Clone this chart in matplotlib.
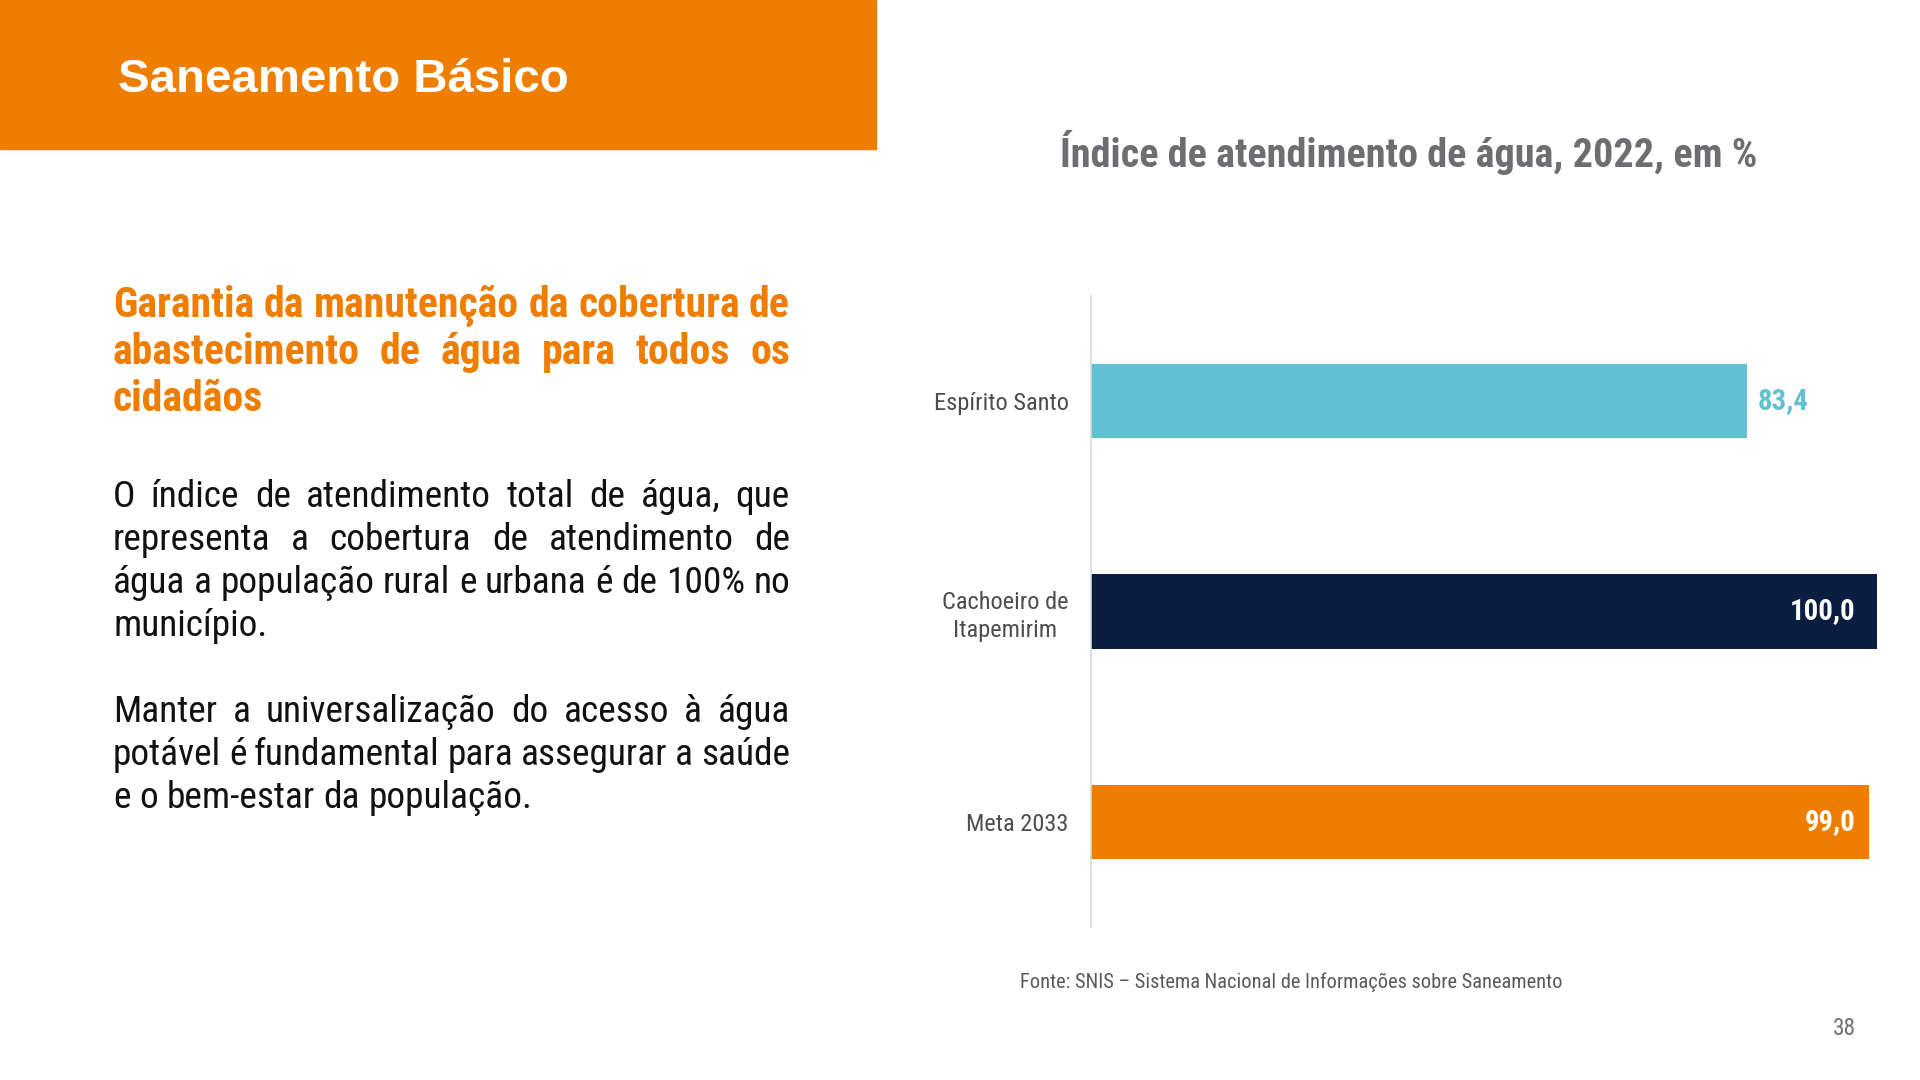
import matplotlib
matplotlib.use("Agg")
import matplotlib.pyplot as plt
from matplotlib import font_manager
from matplotlib.patches import Rectangle

# --- data ---
categories = ["Espírito Santo", "Cachoeiro de\nItapemirim", "Meta 2033"]
values = [83.4, 100.0, 99.0]
bar_colors = ["#62C1D0", "#0A1E42", "#EE7D00"]

header = "Saneamento Básico"
chart_title = "Índice de atendimento de água, 2022, em %"
source = "Fonte: SNIS – Sistema Nacional de Informações sobre Saneamento"
page = "38"
heading_lines = ["Garantia da manutenção da cobertura de",
                 "abastecimento de água para todos os",
                 "cidadãos"]
para1 = ["O índice de atendimento total de água, que",
         "representa a cobertura de atendimento de",
         "água a população rural e urbana é de 100% no",
         "município."]
para2 = ["Manter a universalização do acesso à água",
         "potável é fundamental para assegurar a saúde",
         "e o bem-estar da população."]

ORANGE = "#EE7D00"
W, H = 1920, 1080

names = {f.name for f in font_manager.fontManager.ttflist}


def pick(cands):
    for c in cands:
        if c in names:
            return c
    return "DejaVu Sans"


COND = pick(["Liberation Sans Narrow", "Roboto Condensed", "Open Sans Condensed", "DejaVu Sans"])
STRETCH = "condensed" if COND == "DejaVu Sans" else "normal"
SANS = pick(["Liberation Sans", "Arial", "DejaVu Sans"])

fig = plt.figure(figsize=(19.2, 10.8), dpi=100)
fig.patch.set_facecolor("white")
r = fig.canvas.get_renderer()


def fx(x):
    return x / W


def fy(y):
    return 1 - y / H


def width_of(s, **kw):
    t = fig.text(0, 0, s, **kw)
    w = t.get_window_extent(r).width
    t.remove()
    return w


def fit_size(s, target, **kw):
    w = width_of(s, fontsize=20, **kw)
    return 20 * target / w


def justified(lines, x0, x1, baselines, **kw):
    for i, (line, yb) in enumerate(zip(lines, baselines)):
        words = line.split()
        widths = [width_of(w, **kw) for w in words]
        last = i == len(lines) - 1
        if len(words) > 1 and not last:
            gap = (x1 - x0 - sum(widths)) / (len(words) - 1)
        elif len(words) > 1:
            gap = (width_of(line, **kw) - sum(widths)) / (len(words) - 1)
        else:
            gap = 0
        x = x0
        for w, wd in zip(words, widths):
            fig.text(fx(x), fy(yb), w, ha="left", va="baseline", **kw)
            x += wd + gap


# header band
fig.patches.append(Rectangle((0, fy(149)), fx(876), 149 / H,
                             transform=fig.transFigure, color=ORANGE, zorder=0))
hkw = dict(family=SANS, weight="bold")
fig.text(fx(118), fy(92), header, color="white", ha="left", va="baseline",
         fontsize=fit_size(header, 450, **hkw), **hkw)

# left column text
X0, X1 = 113, 790
ckb = dict(family=COND, stretch=STRETCH, weight="bold")
hs = fit_size(heading_lines[0], X1 - X0 - 2, **ckb)
justified(heading_lines, X0, X1, [317, 364, 411], color=ORANGE, fontsize=hs, **ckb)

ckr = dict(family=COND, stretch=STRETCH)
bs = fit_size(para1[2], X1 - X0 - 2, **ckr)
justified(para1, X0, X1, [507, 550, 593, 636], color="#111111", fontsize=bs, **ckr)
justified(para2, X0, X1, [722, 765, 808], color="#111111", fontsize=bs, **ckr)

# chart title
fig.text(fx(1060), fy(167), chart_title, color="#6D6E71", ha="left", va="baseline",
         fontsize=fit_size(chart_title, 696, **ckb), **ckb)

# bar chart
ax = fig.add_axes([fx(1091), fy(927), fx(1877) - fx(1091), (927 - 296) / H])
y = list(range(len(categories)))
ax.barh(y, values, height=0.352, color=bar_colors, zorder=2)
ax.set_xlim(0, 100)
ax.set_ylim(len(categories) - 0.5, -0.5)
for s in ["top", "right", "bottom"]:
    ax.spines[s].set_visible(False)
ax.spines["left"].set_color("#D9D9D9")
ax.spines["left"].set_linewidth(1.2)
ax.set_xticks([])
tk = fit_size("Espírito Santo", 134, **ckr)
ax.set_yticks(y)
ax.set_yticklabels(categories, fontsize=tk, color="#4D4D4D", family=COND,
                   stretch=STRETCH, multialignment="center", linespacing=1.3)
ax.tick_params(axis="y", length=0, pad=16)
ax.set_facecolor("none")

ls = fit_size("100,0", 65, **ckb)
xmax = ax.get_xlim()[1]
for yi, v, c in zip(y, values, bar_colors):
    lab = f"{v:.1f}".replace(".", ",")
    if v >= 95:
        # inside labels share one right edge near the end of the axis
        ax.annotate(lab, (xmax, yi), xytext=(-22, 0), textcoords="offset pixels",
                    ha="right", va="center", color="white", fontsize=ls, **ckb)
    else:
        ax.annotate(lab, (v, yi), xytext=(11, 0), textcoords="offset pixels",
                    ha="left", va="center", color=c, fontsize=ls, **ckb)

# footer
fig.text(fx(1020), fy(988), source, color="#595959", ha="left", va="baseline",
         fontsize=fit_size(source, 540, **ckr), **ckr)
fig.text(fx(1856), fy(1035), page, color="#6F6F6F", ha="right", va="baseline",
         fontsize=fit_size(page, 23, **ckr), **ckr)

fig.savefig("out.png", dpi=100)
